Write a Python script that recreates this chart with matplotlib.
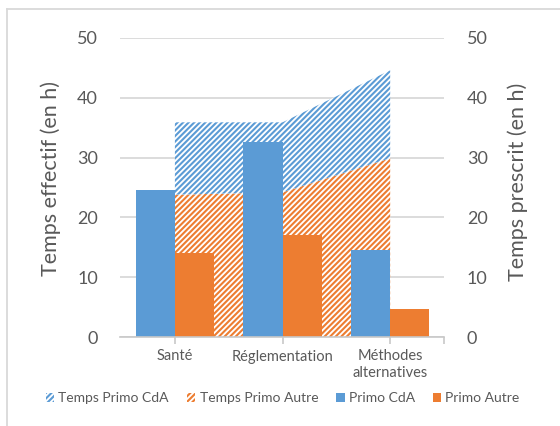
import matplotlib
matplotlib.use("Agg")
import matplotlib.pyplot as plt
import numpy as np
from matplotlib.patches import Patch
from matplotlib.lines import Line2D

# Data
categories = ["Santé", "Réglementation", "Méthodes\nalternatives"]
temps_primo_autre = [23.8, 24.2, 29.9]   # prescribed time, lower stacked area
temps_primo_cda = [12.1, 11.7, 14.7]     # prescribed time, upper stacked area
primo_cda = [24.6, 32.6, 14.5]           # effective time bars
primo_autre = [14.1, 17.0, 4.6]
y_ticks = [0, 10, 20, 30, 40, 50]
legend_labels = ["Temps Primo CdA", "Temps Primo Autre", "Primo CdA", "Primo Autre"]

BLUE = "#5B9BD5"
ORANGE = "#ED7D31"
GRID = "#D9D9D9"
TEXT = "#595959"
HATCH = "//////"

plt.rcParams['font.family'] = ['Lato', 'DejaVu Sans']
plt.rcParams['hatch.linewidth'] = 1.5

W, H = 560, 426
fig = plt.figure(figsize=(W / 100, H / 100), dpi=100)
ax = fig.add_axes([120 / W, 1 - 337 / H, 324 / W, 299 / H])

x = np.arange(len(categories))
autre = np.array(temps_primo_autre)
cda = np.array(temps_primo_cda)

# Stacked hatched areas
ax.fill_between(x, 0, autre, facecolor="white", edgecolor=ORANGE,
                hatch=HATCH, linewidth=0, zorder=1)
ax.fill_between(x, autre, autre + cda, facecolor="white", edgecolor=BLUE,
                hatch=HATCH, linewidth=0, zorder=1)

# Clustered bars
w = 0.365
ax.bar(x - w / 2, primo_cda, w, color=BLUE, zorder=3)
ax.bar(x + w / 2, primo_autre, w, color=ORANGE, zorder=3)

ax.set_xlim(-0.51, 2.5)
ax.set_ylim(0, 50)
ax.set_yticks(y_ticks)
ax.yaxis.grid(True, color=GRID, linewidth=1.3)
ax.set_axisbelow(True)
for s in ["top", "left", "right"]:
    ax.spines[s].set_visible(False)
ax.spines["bottom"].set_color("#C8C8C8")
ax.spines["bottom"].set_linewidth(1.2)
ax.spines["bottom"].set_zorder(4)

ax.set_xticks(x)
ax.set_xticklabels(categories, fontsize=10.5, color=TEXT, linespacing=1.25)
ax.set_xticks([2.5], minor=True)
ax.tick_params(axis="x", which="both", direction="out", length=5,
               color="#C8C8C8", width=1.2, pad=4)
ax.tick_params(axis="y", length=0, pad=16, labelsize=13, labelcolor=TEXT)

ax2 = ax.twinx()
ax2.set_ylim(0, 50)
ax2.set_yticks(y_ticks)
for s in ax2.spines.values():
    s.set_visible(False)
ax2.tick_params(axis="y", length=0, pad=16.5, labelsize=13, labelcolor=TEXT)

fig.text(51 / W, 1 - 179 / H, "Temps effectif (en h)", rotation=90,
         ha="center", va="center", fontsize=15.5, color=TEXT)
fig.text(518 / W, 1 - 182 / H, "Temps prescrit (en h)", rotation=90,
         ha="center", va="center", fontsize=15.5, color=TEXT)

handles = [
    Patch(facecolor="white", edgecolor=BLUE, hatch=HATCH, linewidth=0),
    Patch(facecolor="white", edgecolor=ORANGE, hatch=HATCH, linewidth=0),
    Patch(facecolor=BLUE),
    Patch(facecolor=ORANGE),
]
fig.legend(handles, legend_labels, loc="center", bbox_to_anchor=(0.505, 1 - 398 / H),
           ncol=4, frameon=False, fontsize=10, handlelength=0.6,
           handleheight=0.6, handletextpad=0.3, columnspacing=1.3,
           labelcolor=TEXT)

# Chart frame (left and top edges)
fig.add_artist(Line2D([7 / W, 7 / W], [0, 1 - 9 / H], transform=fig.transFigure,
                      color=GRID, linewidth=1.3))
fig.add_artist(Line2D([7 / W, 1], [1 - 9 / H, 1 - 9 / H], transform=fig.transFigure,
                      color=GRID, linewidth=1.3))

fig.savefig("out.png", dpi=100)
